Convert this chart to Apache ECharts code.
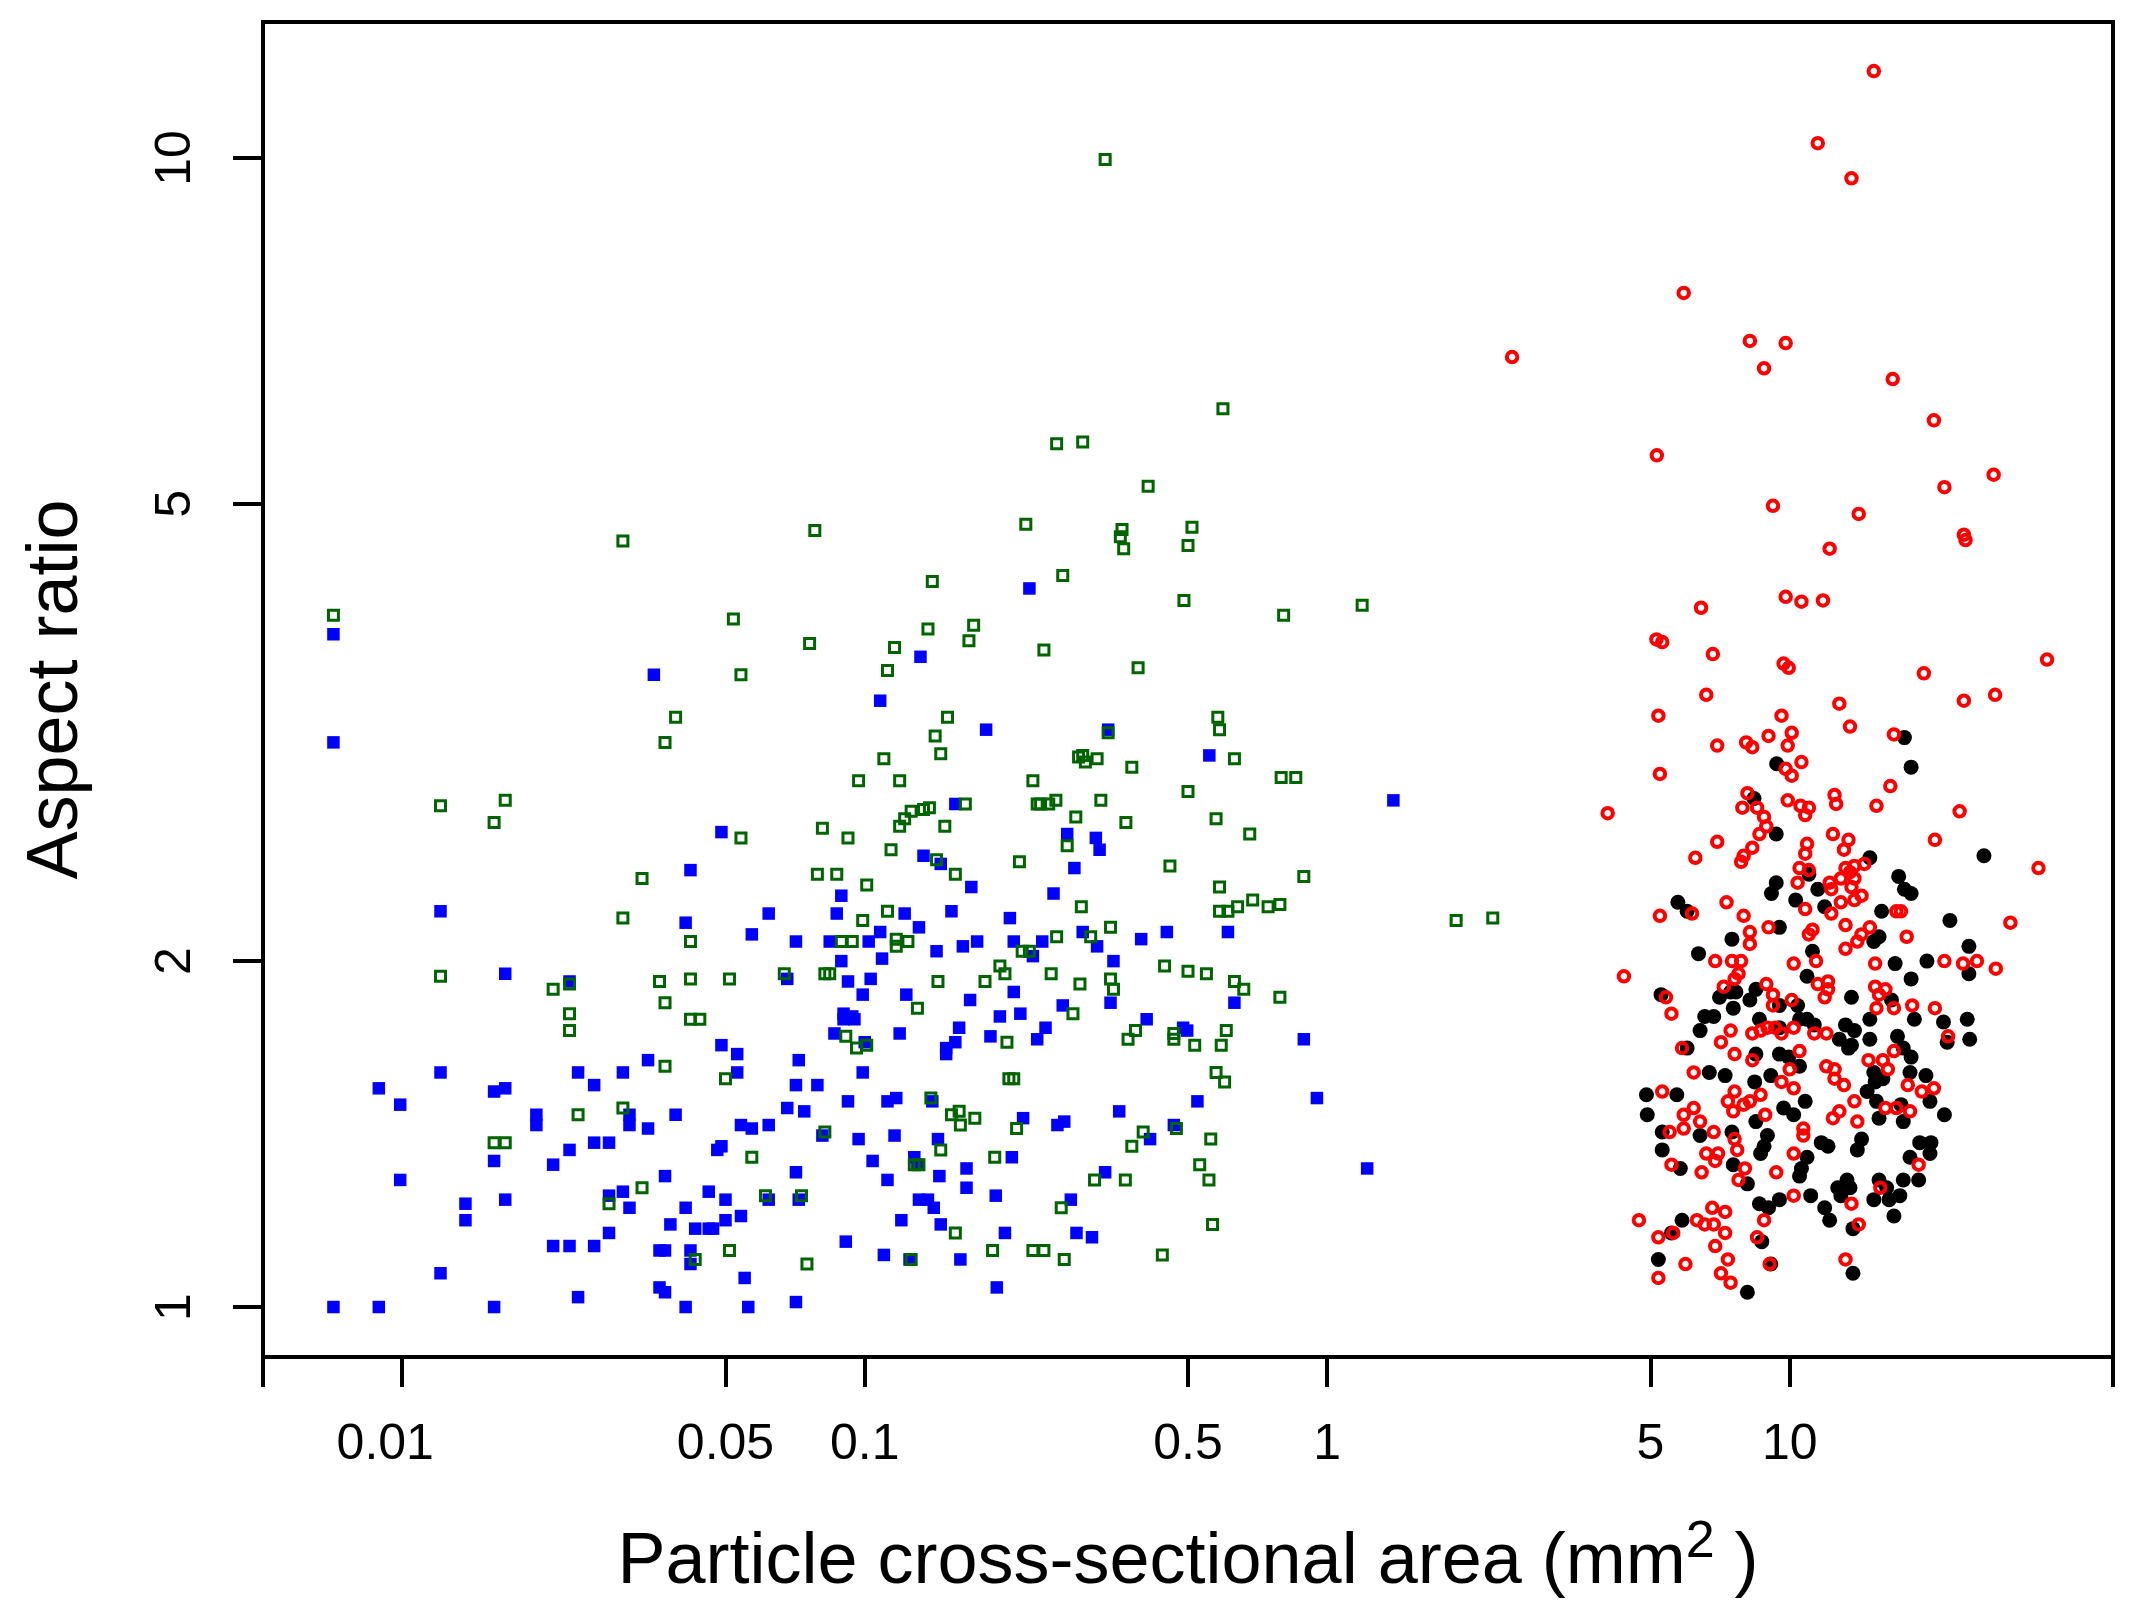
<!DOCTYPE html>
<html>
<head>
<meta charset="utf-8">
<title>Aspect ratio vs particle area</title>
<script src="https://cdn.jsdelivr.net/npm/echarts@6/dist/echarts.min.js"></script>
<style>
html, body { margin: 0; padding: 0; background: #fff; }
#main { width: 2138px; height: 1612px; }
</style>
</head>
<body>
<div id="main"></div>
<script>
// [cross-sectional area (mm2), aspect ratio]
var blueSquares = [
  [0.0071,3.85],[0.0071,3.1],[0.0071,1.0],[0.0089,1.0],[0.0089,1.55],[0.0099,1.5],[0.0099,1.29],
  [0.0121,2.21],[0.0121,1.6],[0.0121,1.07],[0.0137,1.23],[0.0137,1.19],[0.0158,1.54],[0.0167,1.55],
  [0.0167,1.95],[0.0158,1.34],[0.0167,1.24],[0.0158,1.0],[0.0195,1.47],[0.0195,1.44],[0.0212,1.33],
  [0.0212,1.13],[0.023,1.92],[0.023,1.37],[0.023,1.13],[0.024,1.6],[0.024,1.02],[0.026,1.56],
  [0.026,1.39],[0.026,1.13],[0.028,1.39],[0.028,1.25],[0.028,1.16],[0.030,1.6],[0.030,1.26],
  [0.031,1.47],[0.031,1.44],[0.031,1.22],[0.034,1.43],[0.035,3.55],[0.034,1.64],[0.036,1.12],
  [0.036,1.04],[0.037,1.3],[0.037,1.03],[0.037,1.12],[0.038,1.18],[0.039,1.47],[0.041,2.16],
  [0.042,2.4],[0.041,1.22],[0.042,1.12],[0.042,1.09],[0.041,1.0],[0.043,1.17],[0.046,1.26],
  [0.046,1.17],[0.047,1.17],[0.048,1.37],[0.049,1.69],[0.049,2.59],[0.049,1.38],[0.05,1.19],
  [0.05,1.24],[0.053,1.66],[0.053,1.6],[0.054,1.44],[0.054,1.2],[0.055,1.06],[0.056,1.0],
  [0.057,2.11],[0.057,1.43],[0.062,2.2],[0.062,1.44],[0.062,1.24],[0.068,1.93],[0.068,1.49],
  [0.071,2.08],[0.071,1.56],[0.071,1.31],[0.071,1.01],[0.072,1.64],[0.072,1.24],[0.074,1.48],
  [0.079,1.56],[0.081,1.41],[0.084,2.08],[0.086,1.73],[0.087,2.2],[0.089,2.28],[0.089,2.0],
  [0.09,1.8],[0.09,1.78],[0.091,1.14],[0.092,1.92],[0.092,1.51],[0.094,1.79],[0.095,1.78],
  [0.097,1.4],[0.099,1.6],[0.099,1.87],[0.1,1.7],[0.102,2.08],[0.103,1.93],[0.104,1.34],
  [0.108,2.12],[0.109,2.01],[0.108,3.37],[0.11,1.11],[0.112,1.51],[0.112,1.29],[0.116,1.41],
  [0.117,1.52],[0.119,1.73],[0.12,1.19],[0.122,2.2],[0.123,1.87],[0.125,1.1],[0.128,1.35],
  [0.13,1.33],[0.131,2.14],[0.131,1.24],[0.132,3.68],[0.134,2.47],[0.137,1.24],[0.14,1.51],
  [0.141,1.22],[0.143,2.04],[0.144,1.4],[0.145,1.3],[0.146,2.43],[0.146,1.18],[0.15,1.66],
  [0.15,1.68],[0.154,2.21],[0.157,2.74],[0.157,1.7],[0.16,1.75],[0.161,1.1],[0.163,2.06],
  [0.166,1.27],[0.166,1.32],[0.169,1.85],[0.17,2.32],[0.175,2.08],[0.183,3.18],[0.187,1.72],
  [0.192,1.25],[0.193,1.04],[0.196,1.79],[0.201,1.16],[0.206,2.18],[0.208,1.35],[0.21,2.08],
  [0.21,1.88],[0.217,1.8],[0.22,1.46],[0.227,4.22],[0.231,2.02],[0.236,1.71],[0.242,2.08],
  [0.246,1.75],[0.256,2.29],[0.261,1.44],[0.268,1.83],[0.27,1.45],[0.274,2.58],[0.279,1.24],
  [0.284,2.41],[0.287,1.16],[0.296,2.12],[0.31,1.15],[0.316,2.56],[0.318,2.06],[0.322,2.5],
  [0.331,1.31],[0.336,3.18],[0.34,1.84],[0.345,2.0],[0.355,1.48],[0.396,2.09],[0.407,1.78],
  [0.414,1.4],[0.45,2.12],[0.466,1.44],[0.488,1.75],[0.498,1.74],[0.524,1.51],[0.556,3.02],
  [0.61,2.12],[0.63,1.84],[0.89,1.71],[0.95,1.52],[1.22,1.32],[1.39,2.76]
];

var greenSquares = [
  [0.0071,4.0],[0.0121,2.73],[0.0121,1.94],[0.0158,2.64],[0.0167,2.76],[0.0158,1.39],[0.0167,1.39],
  [0.0212,1.89],[0.023,1.91],[0.023,1.8],[0.023,1.74],[0.024,1.47],[0.028,1.23],[0.030,2.18],
  [0.030,4.64],[0.030,1.49],[0.033,2.36],[0.033,1.27],[0.036,1.92],[0.037,3.1],[0.037,1.84],
  [0.039,3.26],[0.037,1.62],[0.042,2.08],[0.042,1.93],[0.042,1.78],[0.043,1.1],[0.044,1.78],
  [0.051,1.93],[0.052,3.97],[0.054,3.55],[0.054,2.56],[0.05,1.58],[0.051,1.12],[0.057,1.35],
  [0.061,1.25],[0.067,1.95],[0.073,1.25],[0.075,1.09],[0.076,3.78],[0.078,4.74],[0.079,2.38],
  [0.081,2.61],[0.082,1.95],[0.082,1.42],[0.084,1.95],[0.087,2.38],[0.089,2.08],[0.091,1.72],
  [0.092,2.56],[0.094,2.08],[0.096,1.68],[0.097,2.87],[0.099,2.17],[0.101,2.33],[0.101,1.69],
  [0.11,3.0],[0.112,3.58],[0.112,2.21],[0.114,2.5],[0.116,3.75],[0.117,2.06],[0.117,2.09],
  [0.119,2.87],[0.119,2.62],[0.122,2.66],[0.124,2.08],[0.126,2.7],[0.126,1.1],[0.128,1.33],
  [0.13,1.82],[0.131,1.33],[0.134,2.71],[0.137,3.89],[0.138,2.72],[0.139,1.52],[0.14,4.28],
  [0.142,3.14],[0.143,2.45],[0.144,1.92],[0.146,3.03],[0.146,1.37],[0.149,2.62],[0.151,3.26],
  [0.154,1.47],[0.157,2.38],[0.157,1.16],[0.16,1.48],[0.161,1.44],[0.165,2.74],[0.168,3.8],
  [0.172,3.92],[0.173,1.46],[0.182,1.92],[0.189,1.12],[0.191,1.35],[0.196,1.98],[0.201,1.95],
  [0.203,1.7],[0.205,1.58],[0.21,1.58],[0.213,1.43],[0.216,2.44],[0.219,2.04],[0.223,4.8],
  [0.227,2.04],[0.231,2.87],[0.231,1.12],[0.236,2.74],[0.24,2.74],[0.244,3.73],[0.244,1.12],
  [0.25,2.74],[0.253,1.95],[0.259,2.76],[0.26,5.64],[0.26,2.1],[0.266,1.22],[0.268,4.33],
  [0.27,1.1],[0.274,2.52],[0.282,1.8],[0.286,2.67],[0.29,3.01],[0.292,1.91],[0.294,2.23],
  [0.296,3.02],[0.296,5.66],[0.3,2.98],[0.308,2.1],[0.314,1.29],[0.318,3.0],[0.324,2.76],
  [0.331,9.97],[0.336,3.16],[0.34,2.14],[0.34,1.93],[0.345,1.89],[0.357,4.68],[0.36,4.75],
  [0.363,4.57],[0.366,1.29],[0.367,2.64],[0.371,1.71],[0.378,2.95],[0.378,1.38],[0.385,1.74],
  [0.39,3.6],[0.4,1.42],[0.41,5.18],[0.44,1.11],[0.445,1.98],[0.457,2.42],[0.466,1.73],
  [0.466,1.71],[0.472,1.43],[0.49,4.12],[0.5,2.81],[0.5,4.6],[0.5,1.96],[0.51,4.77],
  [0.517,1.69],[0.53,1.33],[0.548,1.95],[0.555,1.29],[0.56,1.4],[0.565,1.18],[0.575,1.6],
  [0.575,2.66],[0.58,3.26],[0.585,3.18],[0.585,2.21],[0.585,2.32],[0.59,1.69],[0.595,6.05],
  [0.6,1.57],[0.605,1.74],[0.61,2.21],[0.63,3.0],[0.63,1.92],[0.64,2.23],[0.66,1.89],
  [0.68,2.58],[0.69,2.26],[0.745,2.23],[0.79,1.86],[0.79,2.24],[0.795,2.89],[0.805,4.0],
  [0.855,2.89],[0.89,2.37],[1.19,4.08],[1.9,2.17],[2.28,2.18]
];

var blackDots = [
  [17.7,3.13],[18.3,2.95],[9.37,2.97],[8.37,2.77],[9.35,2.58],[14.9,2.46],[26.3,2.47],[11.0,2.38],
  [17.2,2.37],[17.7,2.31],[18.3,2.29],[9.35,2.34],[9.13,2.29],[11.5,2.31],[10.3,2.26],[5.73,2.25],
  [6.0,2.21],[11.9,2.23],[15.8,2.21],[22.2,2.17],
  [9.5,2.14],[7.5,2.09],[15.6,2.1],[15.2,2.08],[11.2,2.04],[24.4,2.06],[6.35,2.03],[16.9,1.99],
  [19.8,2.0],[24.4,1.95],[18.3,1.93],[10.9,1.94],[5.27,1.87],[7.05,1.86],[7.45,1.88],[7.65,1.88],
  [7.55,1.82],[8.2,1.85],[8.45,1.89],[13.6,1.86],[16.6,1.85],[9.5,1.83],[10.4,1.83],[6.55,1.79],
  [6.85,1.79],[6.4,1.74],[8.6,1.78],[9.5,1.75],[10.5,1.78],[10.9,1.78],[11.3,1.76],[13.2,1.76],
  [13.8,1.74],[18.6,1.78],[21.5,1.77],[24.2,1.78],[14.9,1.78],[12.8,1.71],[13.6,1.69],[13.4,1.68],
  [14.9,1.71],[17.1,1.72],[24.5,1.71],[21.9,1.7],[6.0,1.68],[9.5,1.66],[8.45,1.66],[9.95,1.65],
  [10.5,1.62],[9.1,1.59],[8.4,1.57],[6.7,1.6],[7.25,1.59],[17.6,1.68],[18.3,1.65],[18.2,1.6],
  [15.2,1.6],[15.9,1.58],[15.3,1.57],[19.7,1.59],[14.7,1.54],[15.4,1.51],[20.1,1.51],[10.8,1.51],
  [9.7,1.49],[10.2,1.47],[4.9,1.53],[5.7,1.53],[4.92,1.47],[21.6,1.47],[15.6,1.46],[17.4,1.5],
  [5.3,1.42],[5.3,1.37],[6.4,1.41],[7.5,1.42],[8.95,1.41],[8.8,1.38],[8.65,1.36],[8.45,1.45],
  [7.55,1.33],[5.8,1.32],[8.1,1.28],[11.7,1.39],[12.1,1.38],[14.3,1.4],[14.0,1.37],[10.9,1.35],
  [10.6,1.32],[10.5,1.3],[17.6,1.45],[19.1,1.39],[20.2,1.39],[20.1,1.36],[18.2,1.35],[17.6,1.29],
  [19.0,1.29],[13.3,1.29],[13.5,1.27],[12.7,1.27],[12.9,1.25],[15.6,1.29],[16.2,1.27],[15.2,1.24],
  [17.3,1.25],[16.4,1.24],[11.1,1.25],[9.5,1.24],[8.6,1.23],[9.0,1.22],[11.9,1.22],[12.2,1.19],
  [16.8,1.2],[13.7,1.17],[5.85,1.19],[5.55,1.16],[8.7,1.14],[5.2,1.1],[9.1,1.09],[13.7,1.07],
  [8.1,1.03]
];

var redRings = [
  [15.2,11.9],[11.5,10.3],[13.6,9.6],[5.9,7.63],[2.51,6.71],[8.2,6.93],[9.8,6.9],[8.8,6.56],
  [16.7,6.42],[20.5,5.91],[5.16,5.51],[21.6,5.17],[27.6,5.3],[9.2,4.98],[14.1,4.9],[23.8,4.7],
  [24.0,4.65],[12.2,4.57],[6.43,4.06],[9.8,4.15],[10.6,4.11],[11.8,4.12],[5.15,3.81],[5.3,3.79],
  [6.82,3.7],[9.7,3.63],[9.95,3.6],[19.5,3.56],[36,3.66],[27.8,3.41],[23.8,3.37],[6.6,3.41],
  [5.2,3.27],[9.6,3.27],[12.8,3.35],
  [13.5,3.2],[16.8,3.15],[10.1,3.16],[9.0,3.14],[8.05,3.1],[8.3,3.07],[6.97,3.08],[9.9,3.08],
  [10.6,2.98],[9.8,2.94],[10.1,2.9],[5.24,2.91],[16.5,2.84],[8.1,2.8],[12.5,2.79],[12.6,2.74],
  [9.9,2.76],[7.9,2.72],[8.5,2.72],[10.55,2.73],[11.0,2.72],[10.8,2.68],[8.8,2.67],[8.9,2.62],
  [15.4,2.73],[23.3,2.7],[4.04,2.69],[8.6,2.58],[12.4,2.58],[13.4,2.55],[13.1,2.5],[10.9,2.53],
  [10.8,2.48],[6.97,2.54],[8.3,2.51],[7.95,2.47],[7.85,2.44],[6.25,2.46],[20.6,2.55],[34.5,2.41],
  [14.5,2.43],[10.5,2.41],[11.0,2.4],[13.2,2.41],[13.8,2.42],[13.5,2.39],[13.8,2.36],[12.9,2.36],
  [12.2,2.34],[13.6,2.32],[12.3,2.31],[10.4,2.34],[14.3,2.28],[13.8,2.26],[12.9,2.25],[10.8,2.22],
  [7.3,2.25],[5.24,2.19],[6.15,2.2],[7.95,2.19],[12.3,2.2],[17.0,2.21],[17.4,2.21],[30,2.16],
  [8.2,2.12],[9.0,2.14],[8.2,2.07],[11.0,2.11],[11.2,2.13],[13.2,2.15],[14.9,2.14],[14.3,2.11],
  [14.0,2.08],[13.2,2.05],[17.9,2.1],[21.6,2.0],[23.7,1.99],[25.4,2.0],[27.9,1.97],[15.3,1.99],
  [11.4,2.0],[10.2,1.99],[6.9,2.0],[7.5,2.0],[7.85,2.0],[4.38,1.94],[7.75,1.95],[7.6,1.93],
  [7.2,1.9],[8.9,1.91],[9.2,1.87],[9.2,1.83],[10.1,1.85],[11.5,1.91],[12.1,1.92],[12.1,1.89],
  [11.9,1.86],[15.3,1.9],[16.1,1.89],[15.6,1.87],[5.4,1.86],[5.55,1.8],[18.4,1.83],[20.6,1.82],
  [15.4,1.82],[16.8,1.82],[7.45,1.74],[7.1,1.7],[7.6,1.66],[8.3,1.73],[8.65,1.74],[8.95,1.75],
  [9.3,1.75],[9.6,1.73],[10.2,1.75],[11.3,1.73],[12.0,1.73],[22.0,1.72],[5.85,1.68],[10.5,1.67],
  [8.3,1.64],[10.0,1.61],[16.8,1.67],[14.8,1.64],[15.9,1.64],[16.3,1.61],[12.0,1.62],[12.5,1.61],
  [12.5,1.58],[13.1,1.56],[9.6,1.57],[10.2,1.55],[6.2,1.6],[5.3,1.54],[7.6,1.54],[8.65,1.53],
  [8.2,1.51],[7.95,1.5],[7.35,1.51],[7.55,1.48],[18.0,1.56],[19.3,1.54],[20.5,1.55],[13.8,1.51],
  [16.1,1.49],[17.0,1.49],[18.2,1.48],[6.2,1.49],[5.9,1.47],[8.85,1.47],[12.8,1.48],[12.4,1.46],
  [5.5,1.42],[5.9,1.43],[6.4,1.45],[6.85,1.42],[7.6,1.4],[7.7,1.37],[6.6,1.36],[7.0,1.36],
  [6.9,1.34],[5.55,1.33],[6.45,1.31],[8.0,1.32],[7.75,1.29],[9.35,1.31],[10.7,1.43],[10.7,1.41],
  [10.2,1.36],[14.0,1.45],[19.0,1.33],[15.7,1.27],[10.2,1.25],[13.6,1.23],[4.72,1.19],[6.8,1.22],
  [7.25,1.21],[8.8,1.19],[6.3,1.19],[6.55,1.18],[6.85,1.18],[7.25,1.16],[5.6,1.16],[5.2,1.15],
  [8.5,1.15],[14.1,1.18],[6.9,1.13],[7.35,1.1],[5.95,1.09],[9.05,1.09],[7.1,1.07],[7.45,1.05],
  [5.2,1.06],[13.2,1.1]
];

var xTicks = [0.005, 0.01, 0.05, 0.1, 0.5, 1, 5, 10, 50];
var xLabels = [0.01, 0.05, 0.1, 0.5, 1, 5, 10];
var yTicks = [1, 2, 5, 10];

var font = 'Liberation Sans';
var chart = echarts.init(document.getElementById('main'), null, { renderer: 'canvas' });

chart.setOption({
  animation: false,
  backgroundColor: '#fff',
  textStyle: { fontFamily: font },
  grid: {
    left: 263, right: 25, top: 22, bottom: 255,
    show: true, borderColor: '#000', borderWidth: 4, backgroundColor: 'transparent'
  },
  xAxis: {
    type: 'log', logBase: 10, min: 0.005, max: 50,
    name: '{t|Particle cross-sectional area (mm}{s|2}{t| )}',
    nameLocation: 'middle', nameGap: 160,
    nameTextStyle: {
      rich: {
        t: { fontSize: 72, lineHeight: 92, fontFamily: font, color: '#000' },
        s: { fontSize: 52, lineHeight: 52, fontFamily: font, color: '#000', verticalAlign: 'top' }
      }
    },
    axisLine: { show: false },
    axisTick: { show: true, length: 30, customValues: xTicks, lineStyle: { color: '#000', width: 4 } },
    axisLabel: {
      customValues: xLabels, margin: 63, fontSize: 50, color: '#000', fontFamily: font,
      formatter: function (v) {
        if (Math.abs(v - 0.01) < 1e-9) return '{l|0.01}';
        return String(+v.toPrecision(3));
      },
      rich: { l: { fontSize: 50, fontFamily: font, color: '#000', padding: [0, 34, 0, 0] } }
    },
    splitLine: { show: false },
    minorTick: { show: false }
  },
  yAxis: {
    type: 'log', logBase: 10, min: 0.9047, max: 13.13,
    name: 'Aspect ratio', nameLocation: 'middle', nameGap: 170,
    nameTextStyle: { fontSize: 72, color: '#000', fontFamily: font },
    axisLine: { show: false },
    axisTick: { show: true, length: 30, customValues: yTicks, lineStyle: { color: '#000', width: 4 } },
    axisLabel: {
      customValues: yTicks, rotate: 90, margin: 62, fontSize: 50, color: '#000', fontFamily: font,
      formatter: function (v) { return String(Math.round(v)); }
    },
    splitLine: { show: false },
    minorTick: { show: false }
  },
  series: [
    {
      type: 'scatter', data: blueSquares, symbol: 'rect', symbolSize: 12.5,
      itemStyle: { color: '#0000ff', opacity: 1 }
    },
    {
      type: 'scatter', data: greenSquares, symbol: 'rect', symbolSize: 10,
      itemStyle: { color: 'rgba(0,0,0,0)', borderColor: '#006400', borderWidth: 3, opacity: 1 }
    },
    {
      type: 'scatter', data: blackDots, symbol: 'circle', symbolSize: 15,
      itemStyle: { color: '#000', opacity: 1 }
    },
    {
      type: 'scatter', data: redRings, symbol: 'circle', symbolSize: 10.5,
      itemStyle: { color: 'rgba(0,0,0,0)', borderColor: '#ff0000', borderWidth: 4, opacity: 1 }
    }
  ]
});
</script>
</body>
</html>
